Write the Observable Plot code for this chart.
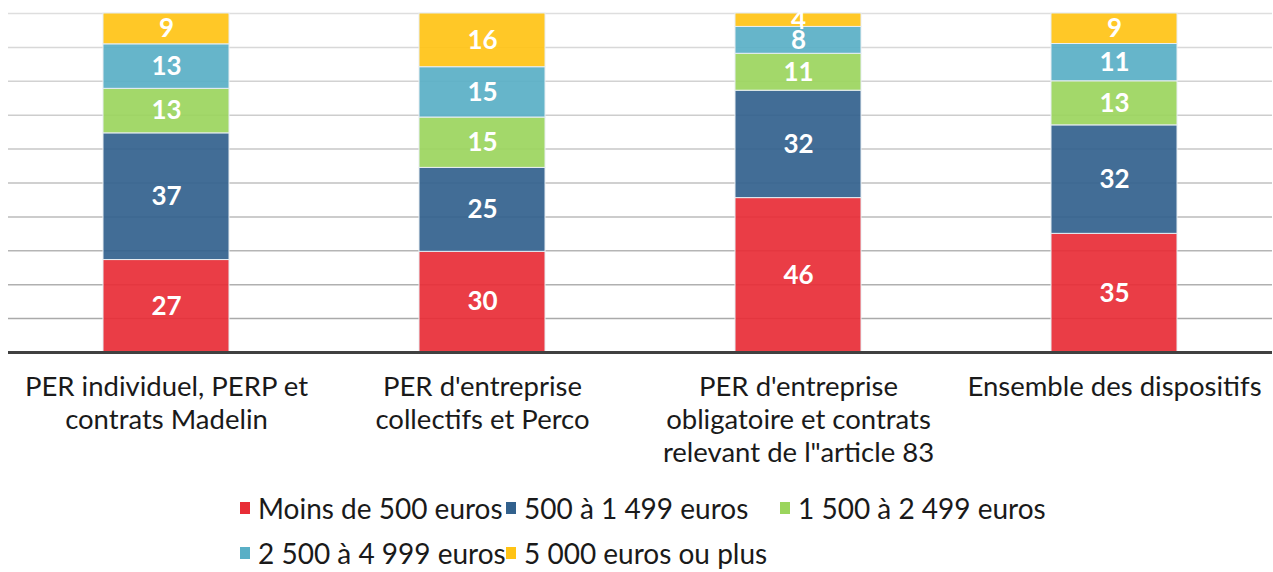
<!DOCTYPE html>
<html>
<head>
<meta charset="utf-8">
<script src="https://cdn.jsdelivr.net/npm/d3@7"></script>
<script src="https://cdn.jsdelivr.net/npm/@observablehq/plot@0.6"></script>
<style>
  body { margin: 0; background: #fff; font-family: Lato, sans-serif; }
  #chart { position: relative; width: 1273px; }
  #legend { display: grid; grid-template-columns: 266px 274px auto; margin-left: 240px; padding-top: 10px; font-size: 28px; color: #1a1a1a; }
  .item { display: flex; align-items: center; height: 45px; white-space: nowrap; }
  .sw { width: 10px; height: 12px; margin-right: 8px; }
</style>
</head>
<body>
<div id="chart"></div>
<div id="legend"></div>
<script>
const categories = [
  "PER individuel, PERP et contrats Madelin",
  "PER d'entreprise collectifs et Perco",
  "PER d'entreprise obligatoire et contrats relevant de l\"article 83",
  "Ensemble des dispositifs"
];
const tickLabels = [
  "PER individuel, PERP et\ncontrats Madelin",
  "PER d'entreprise\ncollectifs et Perco",
  "PER d'entreprise\nobligatoire et contrats\nrelevant de l\"article 83",
  "Ensemble des dispositifs"
];
const series = ["Moins de 500 euros", "500 à 1 499 euros", "1 500 à 2 499 euros", "2 500 à 4 999 euros", "5 000 euros ou plus"];
const moins500 = [27, 30, 46, 35];
const de500a1499 = [37, 25, 32, 32];
const de1500a2499 = [13, 15, 11, 13];
const de2500a4999 = [13, 15, 8, 11];
const plus5000 = [9, 16, 4, 9];
const colors = ["#E82D36", "#32618D", "#9BD55D", "#59AFC6", "#FFC315"];
const gridTicks = [0.1, 0.2, 0.3, 0.4, 0.5, 0.6, 0.7, 0.8, 0.9, 1.0];

const seriesValues = [moins500, de500a1499, de1500a2499, de2500a4999, plus5000];
const data = categories.flatMap((c, i) => series.map((s, j) => ({cat: c, serie: s, value: seriesValues[j][i]})));
const labelOf = new Map(categories.map((c, i) => [c, tickLabels[i]]));
const gridColor = d3.interpolateRgb("#a4a4a4", "#dedede");

const chart = Plot.plot({
  width: 1273,
  height: 475,
  marginLeft: 8,
  marginRight: 1,
  marginTop: 13,
  marginBottom: 123,
  style: {fontFamily: "Lato, sans-serif", background: "#fff"},
  x: {domain: categories, paddingInner: 0.6, paddingOuter: 0.3, axis: null},
  y: {domain: [0, 1], axis: null},
  color: {domain: series, range: colors},
  marks: [
    Plot.ruleY(gridTicks, {stroke: d => gridColor(d), strokeWidth: 1.5}),
    Plot.barY(data, Plot.stackY({offset: "normalize", x: "cat", y: "value", fill: "serie", fillOpacity: 0.92, stroke: "#e8eef2", strokeWidth: 1})),
    Plot.text(data, Plot.stackY({offset: "normalize", x: "cat", y: "value", text: d => String(d.value), fill: "white", fontWeight: "bold", fontSize: 26})),
    Plot.ruleY([0], {stroke: "#404040", strokeWidth: 3}),
    Plot.axisX({tickSize: 0, tickPadding: 20, label: null, tickFormat: d => labelOf.get(d), fontSize: 27.5, lineHeight: 1.2, fill: "#1a1a1a"})
  ]
});
document.getElementById("chart").append(chart);

const legend = document.getElementById("legend");
series.forEach((s, i) => {
  const it = document.createElement("div");
  it.className = "item";
  const sw = document.createElement("span");
  sw.className = "sw";
  sw.style.background = colors[i];
  const tx = document.createElement("span");
  tx.textContent = s;
  it.append(sw, tx);
  legend.append(it);
});
</script>
</body>
</html>
